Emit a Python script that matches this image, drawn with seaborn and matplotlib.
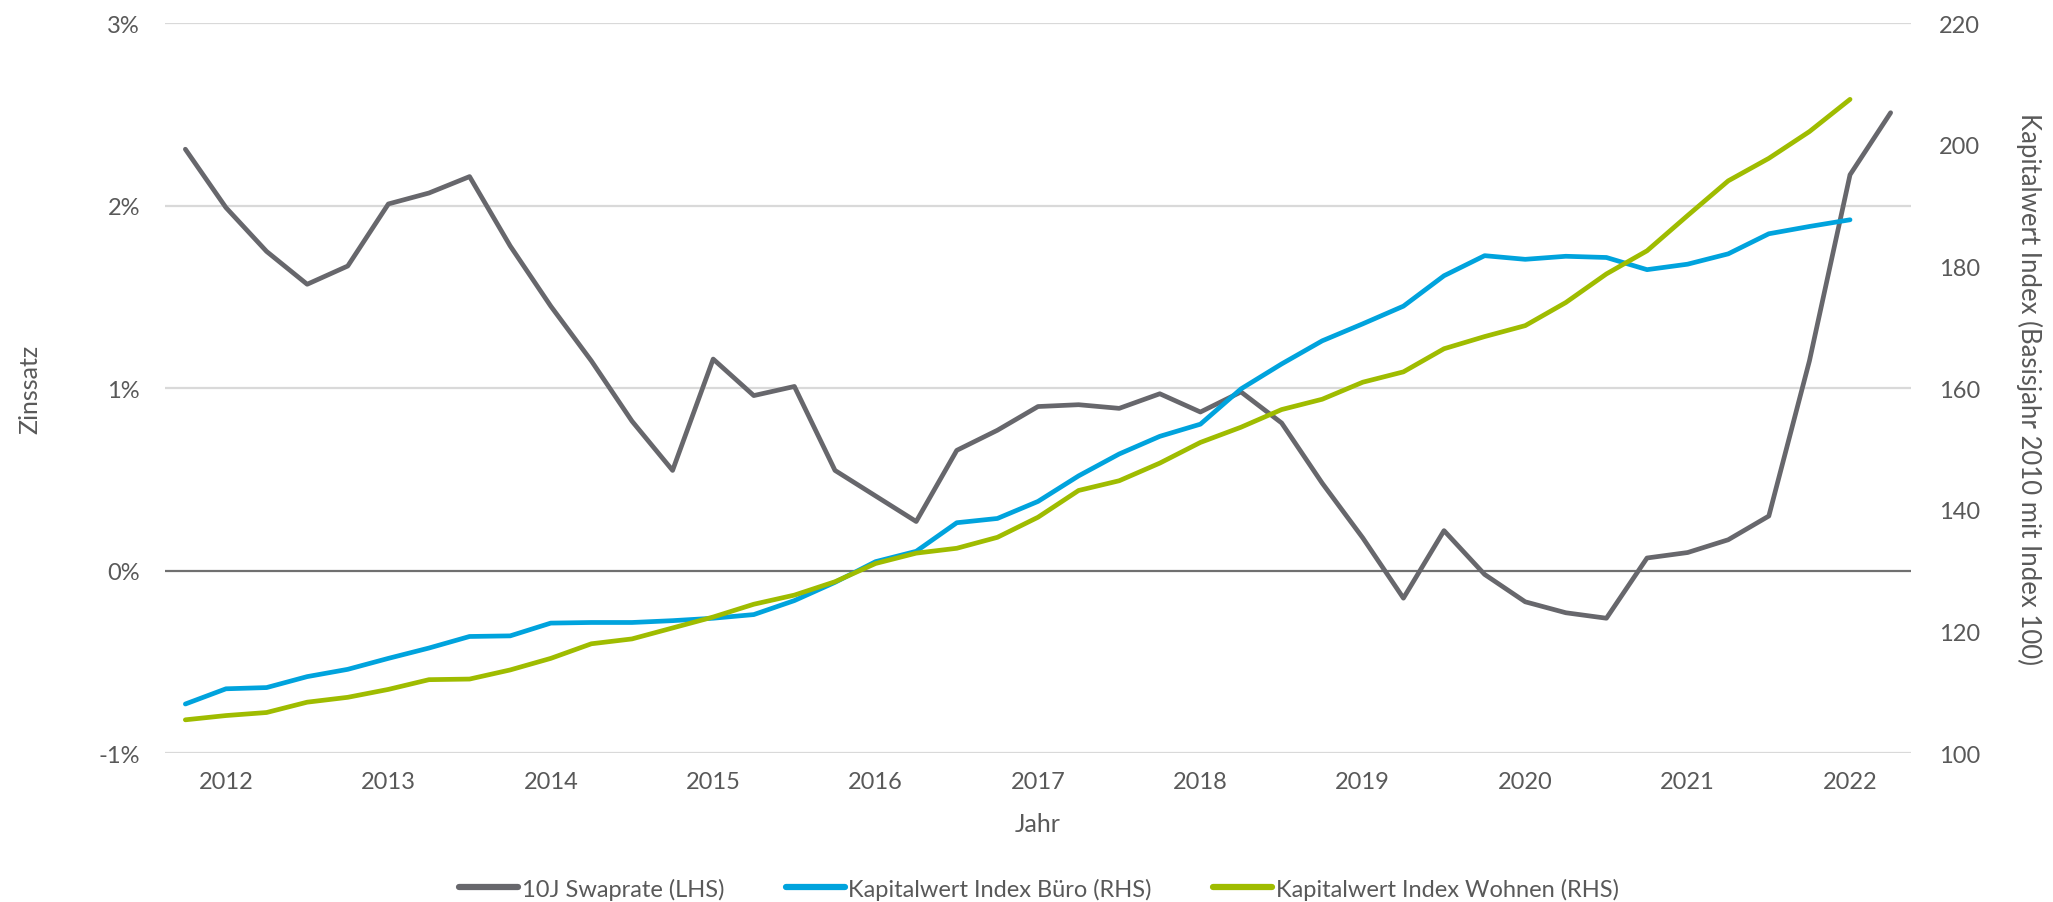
import numpy as np
import pandas as pd
import matplotlib
matplotlib.use("Agg")
import matplotlib.pyplot as plt
import seaborn as sns

# Quarterly data, 2011 Q4 .. 2022 Q2
quarters = pd.period_range("2011Q4", "2022Q2", freq="Q").astype(str)

# 10J Swaprate in % (left axis)
swaprate = [2.31, 1.99, 1.75, 1.57, 1.67, 2.01, 2.07, 2.16, 1.78, 1.45,
            1.15, 0.82, 0.55, 1.16, 0.96, 1.01, 0.55, 0.41, 0.27, 0.66,
            0.77, 0.90, 0.91, 0.89, 0.97, 0.87, 0.98, 0.81, 0.48, 0.18,
            -0.15, 0.22, -0.02, -0.17, -0.23, -0.26, 0.07, 0.10, 0.17, 0.30,
            1.15, 2.17, 2.51]

# Kapitalwert indices (right axis), end in 2022 Q1
index_buero = [108.1, 110.6, 110.8, 112.6, 113.8, 115.6, 117.3, 119.2, 119.3, 121.4,
               121.5, 121.5, 121.8, 122.2, 122.8, 125.1, 128.1, 131.5, 133.2, 137.9,
               138.6, 141.4, 145.6, 149.2, 152.1, 154.1, 159.9, 164.0, 167.8, 170.6,
               173.5, 178.5, 181.8, 181.2, 181.7, 181.5, 179.5, 180.4, 182.1, 185.4,
               186.6, 187.7]
index_wohnen = [105.5, 106.2, 106.7, 108.4, 109.2, 110.5, 112.1, 112.2, 113.7, 115.6,
                118.0, 118.8, 120.6, 122.4, 124.5, 126.0, 128.2, 131.2, 132.9, 133.7,
                135.5, 138.8, 143.2, 144.8, 147.7, 151.1, 153.6, 156.5, 158.2, 161.0,
                162.7, 166.5, 168.5, 170.3, 174.1, 178.8, 182.6, 188.4, 194.1, 197.8,
                202.2, 207.5]

year_labels = [str(y) for y in range(2012, 2023)]
left_ticks = [-1, 0, 1, 2, 3]
right_ticks = [100, 120, 140, 160, 180, 200, 220]

sns.set_style("white")
plt.rcParams["font.family"] = ["Lato", "DejaVu Sans"]

TXT = "#595959"
GREY = "#67676c"
BLUE = "#00a3dd"
GREEN = "#9fbc00"

x_all = np.arange(len(quarters))
swap_df = pd.DataFrame({"q": x_all, "rate": swaprate})
idx_df = pd.DataFrame({"q": x_all[:len(index_buero)],
                       "buero": index_buero, "wohnen": index_wohnen})

fig = plt.figure(figsize=(20.53, 9.03), dpi=100)
ax = fig.add_axes([0.0804, 0.1647, 0.8504, 0.8084])
ax2 = ax.twinx()

line_kw = dict(lw=3.4, solid_capstyle="round", solid_joinstyle="round")

# grid lines + zero line
for t in left_ticks:
    if t == 0:
        ax.axhline(t, color="#707070", lw=1.6, zorder=1)
    else:
        ax.axhline(t, color="#d9d9d9", lw=1.6, zorder=0)

sns.lineplot(data=swap_df, x="q", y="rate", ax=ax, color=GREY,
             label="10J Swaprate (LHS)", legend=False, **line_kw)
sns.lineplot(data=idx_df, x="q", y="buero", ax=ax2, color=BLUE,
             label="Kapitalwert Index Büro (RHS)", legend=False, **line_kw)
sns.lineplot(data=idx_df, x="q", y="wohnen", ax=ax2, color=GREEN,
             label="Kapitalwert Index Wohnen (RHS)", legend=False, **line_kw)

ax.set_xlim(-0.5, len(quarters) - 0.5)
ax.set_ylim(-1, 3)
ax2.set_ylim(100, 220)

ax.set_xticks(np.arange(1, len(quarters), 4))
ax.set_xticklabels(year_labels)
ax.set_yticks(left_ticks)
ax.set_yticklabels([f"{t}%" for t in left_ticks])
ax2.set_yticks(right_ticks)

for a in (ax, ax2):
    for s in a.spines.values():
        s.set_visible(False)
    a.tick_params(length=0, labelsize=17, colors=TXT)
ax.tick_params(axis="x", pad=13)
ax.tick_params(axis="y", pad=18)
ax2.tick_params(axis="y", pad=20)

ax.set_xlabel("Jahr", fontsize=18, color=TXT, labelpad=14)
ax.set_ylabel("Zinssatz", fontsize=18, color=TXT, labelpad=41)
ax2.set_ylabel("Kapitalwert Index (Basisjahr 2010 mit Index 100)", fontsize=18.5,
               color=TXT, rotation=270, labelpad=45)

handles = [h for h in ax.get_lines() if h.get_label() == "10J Swaprate (LHS)"] + \
          [h for h in ax2.get_lines() if not h.get_label().startswith("_")]
leg = fig.legend(handles=handles, labels=[h.get_label() for h in handles],
                 loc="center", bbox_to_anchor=(0.506, 0.015), ncol=3, frameon=False,
                 fontsize=17, handlelength=2.5, handletextpad=0.15,
                 columnspacing=2.6)
for t in leg.get_texts():
    t.set_color(TXT)
for h in leg.legend_handles:
    h.set_linewidth(4.5)
    h.set_solid_capstyle("round")

fig.savefig("out.png", dpi=100)
